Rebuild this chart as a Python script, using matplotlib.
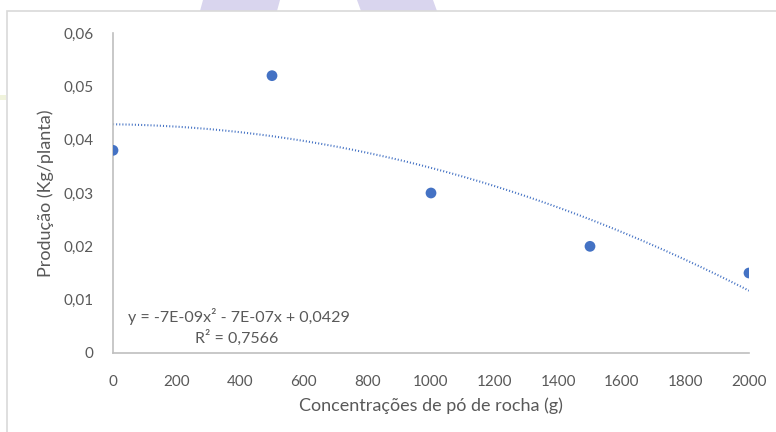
import matplotlib
matplotlib.use("Agg")
import matplotlib.pyplot as plt
from matplotlib.patches import Polygon, Rectangle
from matplotlib.ticker import FuncFormatter
import numpy as np

# data
conc = [0, 500, 1000, 1500, 2000]
prod = [0.038, 0.052, 0.030, 0.020, 0.015]
xticks = [0, 200, 400, 600, 800, 1000, 1200, 1400, 1600, 1800, 2000]
yticks = [0, 0.01, 0.02, 0.03, 0.04, 0.05, 0.06]

plt.rcParams['font.family'] = ['Lato', 'DejaVu Sans']
grey = '#595959'
blue = '#4472C4'

W, H = 776, 432
fig = plt.figure(figsize=(W / 100, H / 100), dpi=100)

# background bits of the page around the chart
def px(x, y):
    return (x / W, 1 - y / H)

for shape in ([(203, 0), (280, 0), (277, 11), (200, 11)],
              [(357, 0), (433, 0), (437, 11), (361, 11)]):
    fig.patches.append(Polygon([px(*p) for p in shape], closed=True,
                               transform=fig.transFigure, color='#D9D5EE', lw=0))
fig.patches.append(Rectangle(px(0, 100), 6 / W, 5 / H, transform=fig.transFigure,
                             color='#F0F3DC', lw=0))
fig.patches.append(Rectangle(px(7, 440), 1, 429 / H, transform=fig.transFigure,
                             fill=False, edgecolor='#D9D9D9', lw=1.2))

ax = fig.add_axes([113 / W, 1 - 353 / H, 636 / W, 320 / H])
ax.set_facecolor('none')

# quadratic trend line
coef = np.polyfit(conc, prod, 2)
xs = np.linspace(0, 2000, 200)
ax.plot(xs, np.polyval(coef, xs), color=blue, lw=1.5, linestyle=(0, (0.5, 1.0)),
        zorder=2)
ax.scatter(conc, prod, s=60, color=blue, zorder=3, edgecolors='none')

ax.set_xlim(0, 2000)
ax.set_ylim(0, 0.06)
ax.set_xticks(xticks)
ax.set_yticks(yticks)
ax.yaxis.set_major_formatter(FuncFormatter(
    lambda v, p: '0' if v == 0 else ('%.2f' % v).replace('.', ',')))
ax.tick_params(length=0, labelsize=11, colors=grey)
ax.tick_params(axis='x', pad=16)
ax.tick_params(axis='y', pad=14)

for s in ['top', 'right']:
    ax.spines[s].set_visible(False)
for s in ['left', 'bottom']:
    ax.spines[s].set_color('#BFBFBF')
    ax.spines[s].set_linewidth(1.2)

ax.set_xlabel('Concentrações de pó de rocha (g)', fontsize=13, color=grey, labelpad=6)
ax.set_ylabel('Produção (Kg/planta)', fontsize=13, color=grey, labelpad=7)

ax.text(48, 0.0068, 'y = -7E-09x² - 7E-07x + 0,0429', fontsize=11.5, color=grey,
        va='center', ha='left')
ax.text(390, 0.0028, 'R² = 0,7566', fontsize=11.5, color=grey, va='center', ha='center')

fig.savefig('out.png', dpi=100)
